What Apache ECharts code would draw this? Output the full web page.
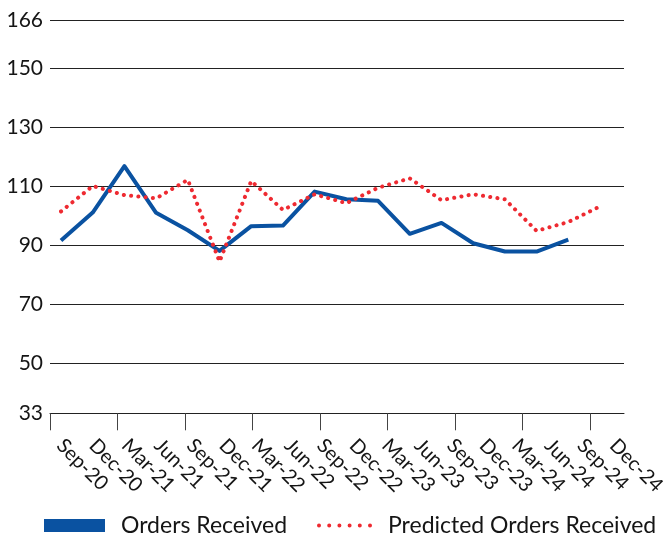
<!DOCTYPE html>
<html>
<head>
<meta charset="utf-8">
<script src="https://cdn.jsdelivr.net/npm/echarts@6/dist/echarts.min.js"></script>
<style>
  html, body { margin: 0; padding: 0; background: #fff; }
  #chart { width: 669px; height: 540px; }
</style>
</head>
<body>
<div id="chart"></div>
<script>
// Quarterly categories
const categories = ['Sep-20', 'Dec-20', 'Mar-21', 'Jun-21', 'Sep-21', 'Dec-21', 'Mar-22', 'Jun-22', 'Sep-22',
  'Dec-22', 'Mar-23', 'Jun-23', 'Sep-23', 'Dec-23', 'Mar-24', 'Jun-24', 'Sep-24', 'Dec-24'];

// Actual orders (through Sep-24)
const ordersReceived = [91.5, 101.0, 116.7, 100.9, 95.0, 88.0, 96.4, 96.6, 108.1,
  105.5, 105.0, 93.8, 97.5, 90.6, 87.8, 87.8, 91.8];

// Predicted orders
const predictedOrders = [101.4, 110.0, 106.9, 105.8, 112.1, 84.4, 111.7, 101.9, 107.2,
  104.2, 109.4, 112.6, 105.2, 107.2, 105.5, 94.8, 97.8, 103.1];

// Value axis labels
const yTicks = [33, 50, 70, 90, 110, 130, 150, 166];

const FONT = 'Lato, "Noto Sans", sans-serif';
const TEXT = '#151515';
const Y_MIN = 33, Y_MAX = 166;
const TOP = 20.7, BOTTOM = 126.7;

// six dots for the legend marker of the dotted series
const dotIcon = 'path://' + [0, 1, 2, 3, 4, 5].map(i => {
  const cx = 2 + i * 10.2;
  return `M${cx - 2},2A2,2 0 1,1 ${cx + 2},2A2,2 0 1,1 ${cx - 2},2Z`;
}).join(' ');

const chart = echarts.init(document.getElementById('chart'), null, { renderer: 'canvas' });

chart.setOption({
  animation: false,
  backgroundColor: '#ffffff',
  textStyle: { fontFamily: FONT },
  grid: [
    // frame: gridlines, baseline and tick marks
    { left: 50, right: 45, top: TOP, bottom: BOTTOM },
    // plotted series
    { left: 61, right: 69, top: TOP, bottom: BOTTOM },
    // category labels
    { left: 60, right: 56, top: TOP, bottom: BOTTOM }
  ],
  xAxis: [
    {
      type: 'category', gridIndex: 0, data: categories, boundaryGap: false,
      axisLine: { lineStyle: { color: '#222', width: 1 } },
      axisTick: { show: true, length: 17, lineStyle: { color: '#444', width: 1 } },
      axisLabel: { show: false },
      splitLine: { show: false }
    },
    {
      type: 'category', gridIndex: 1, data: categories, boundaryGap: false, show: false
    },
    {
      type: 'category', gridIndex: 2, data: categories, boundaryGap: false,
      axisLine: { show: false },
      axisTick: { show: false },
      axisLabel: { rotate: -45, fontSize: 20, color: TEXT, fontFamily: FONT, margin: 29, interval: 0 },
      splitLine: { show: false }
    }
  ],
  yAxis: [
    {
      type: 'value', gridIndex: 0, min: Y_MIN, max: Y_MAX,
      axisLine: { show: false },
      axisTick: { show: false, customValues: yTicks },
      axisLabel: { customValues: yTicks, fontSize: 21, color: TEXT, fontFamily: FONT, margin: 7, padding: [0, 0, 6, 0] },
      splitLine: { show: true, lineStyle: { color: '#222', width: 1 } }
    },
    {
      type: 'value', gridIndex: 1, min: Y_MIN, max: Y_MAX, show: false, splitLine: { show: false }
    },
    {
      type: 'value', gridIndex: 2, min: Y_MIN, max: Y_MAX, show: false, splitLine: { show: false }
    }
  ],
  legend: [
    {
      data: [{ name: 'Orders Received', icon: 'rect' }],
      left: 44, top: 514, padding: 0,
      itemWidth: 61, itemHeight: 13,
      textStyle: { fontSize: 23, color: TEXT, fontFamily: FONT, padding: [0, 0, 0, 11] }
    },
    {
      data: [{ name: 'Predicted Orders Received', icon: dotIcon }],
      left: 317, top: 514, padding: 0,
      itemWidth: 55, itemHeight: 4,
      itemStyle: { color: '#EE2A31' },
      textStyle: { fontSize: 23, color: TEXT, fontFamily: FONT, padding: [0, 0, 0, 11] }
    }
  ],
  series: [
    {
      name: 'Orders Received', type: 'line', xAxisIndex: 1, yAxisIndex: 1,
      data: ordersReceived, symbol: 'none',
      itemStyle: { color: '#0A52A1' },
      lineStyle: { color: '#0A52A1', width: 4, join: 'round' }
    },
    {
      name: 'Predicted Orders Received', type: 'line', xAxisIndex: 1, yAxisIndex: 1,
      data: predictedOrders, symbol: 'none',
      itemStyle: { color: '#EE2A31' },
      lineStyle: { color: '#EE2A31', width: 4, type: [0.1, 7.2], cap: 'round' }
    }
  ]
});
</script>
</body>
</html>
